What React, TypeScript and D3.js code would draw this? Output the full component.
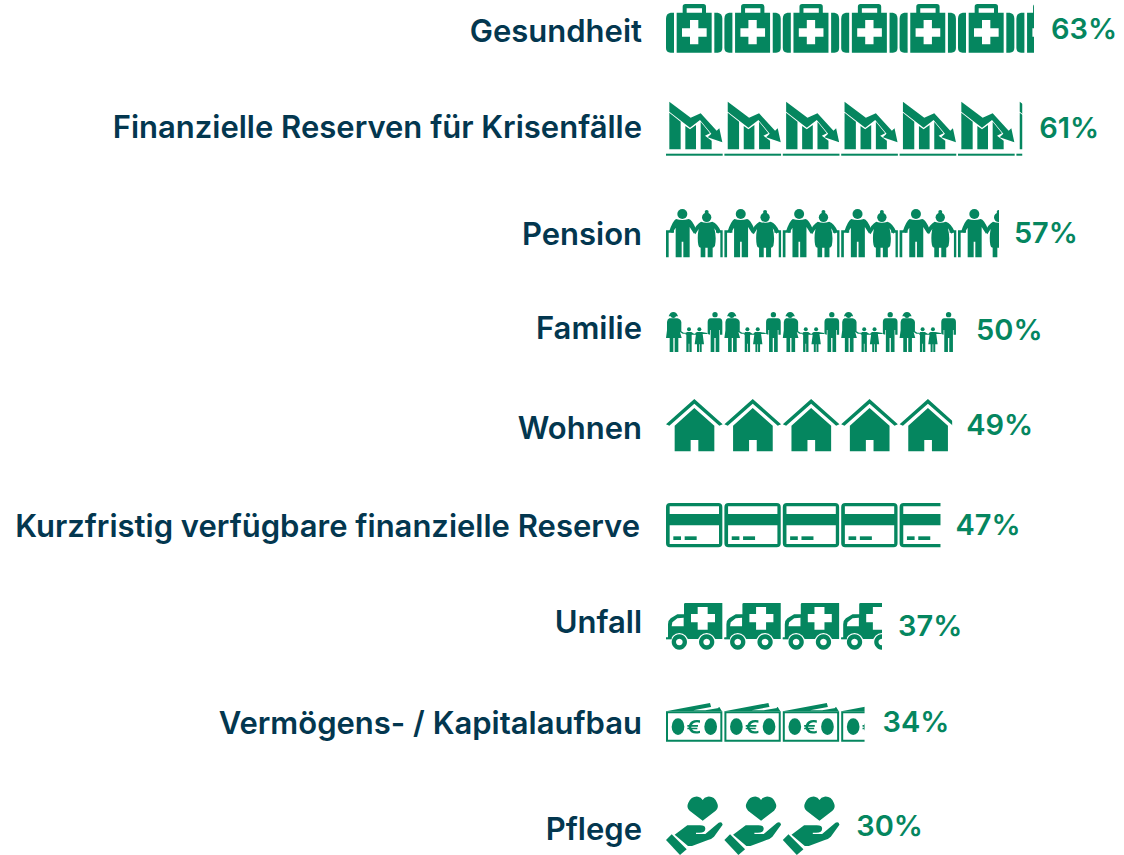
import React from "react";
import * as d3 from "d3";

const categories = ["Gesundheit","Finanzielle Reserven für Krisenfälle","Pension","Familie","Wohnen","Kurzfristig verfügbare finanzielle Reserve","Unfall","Vermögens- / Kapitalaufbau","Pflege"];
const values = [63,61,57,50,49,47,37,34,30];
const icons = ["kit","chart","pension","family","house","card","ambulance","money","hand"];

const GREEN = "#05865f";
const NAVY = "#03374f";
const FONT = "Inter, sans-serif";

// layout per row (page px)
const iconTops = [4,101.7,209,312,399,503,603,703,796];
const labelY = [31,127,234,328,428,526,622,723,829];
const pctY = [29,128,233,330,425,525,626,722,826];
const labelRight = [642,642,642,642,642,640,642,642,642];
const pctGap = [17,17,15,18,14,15,16,18,15];

const X0 = 666;
const x = d3.scaleLinear().domain([0,100]).range([X0, X0+584]);
const UNIT = 10; // one icon = 10 %

const Kit = () => (
  <g fill={GREEN}>
    <path d="M24 26H14Q0 28 0 44V132Q0 146 14 146H24Z"/>
    <path d="M145 26H155Q169 28 169 44V132Q169 146 155 146H145Z"/>
    <path fillRule="evenodd" d="M32 26H50V8Q50 0 58 0H112Q120 0 120 8V26H137V146H32ZM62 26H108V13H62ZM72 48V73H48V98H72V121H97V98H122V73H97V48Z"/>
  </g>
);
const ChartIcon = () => (
  <g fill={GREEN}>
    <path d="M10 0L74 48L104 35L152 87L160 80L169 122L125 107L136 96L102 55L72 78L10 30Z"/>
    <path d="M10 33L44 60V143H10Z"/>
    <path d="M58 73L72 83L90 70V143H58Z"/>
    <path d="M104 60L132 95L117 102L137 117V143H104Z"/>
    <rect x="0" y="156" width="170" height="6"/>
  </g>
);
const Pension = () => (
  <g fill={GREEN}>
    <circle cx="49" cy="15" r="15"/>
    <path d="M30 30Q49 36 68 30Q78 32 90 60L84 74L71 54V145H52V98H47V145H29V56L19 72L10 66Q20 36 30 30Z"/>
    <path d="M0 64H24V71H8V145H0Z"/>
    <circle cx="122" cy="9" r="6"/>
    <circle cx="122" cy="25" r="14"/>
    <path d="M105 38Q122 44 139 38Q155 44 164 66L156 74L145 58Q152 85 147 110Q144 116 140 116V145H125V116H118V145H104V116Q98 116 97 108Q93 85 98 60L88 76L82 68Q90 46 105 38Z"/>
    <path d="M150 64H170V145H163V71H150Z"/>
  </g>
);
const Family = () => (
  <g fill={GREEN}>
    <circle cx="22" cy="10" r="8"/><path d="M8 13Q12 0 22 0Q32 0 36 13Z"/>
    <path d="M10 19H34Q44 21 46 30V58L53 62H60V65H50L42 60L47 78H37V120H26V78H22V120H11V78H0L3 55V30Q4 21 10 19Z"/>
    <circle cx="69" cy="52" r="6"/>
    <path d="M62 60H76L84 65H92V68H80L77 68V120H70V95H68V120H61V68L58 67Z"/>
    <circle cx="100" cy="52" r="6"/>
    <path d="M93 60H107L124 63V66L110 66L114 97H107V120H101V97H99V120H93V97H86L90 66L88 67V63Z"/>
    <circle cx="147" cy="8" r="8"/>
    <path d="M134 19H160Q169 20 169 30V68H162V54H160V120H149V78H145V120H134V54H132V68L125 66V30Q125 20 134 19Z"/>
  </g>
);
const House = () => (
  <g fill={GREEN}>
    <path d="M85 0L170 76L160 80L85 14L10 80L0 76Z"/>
    <path fillRule="evenodd" d="M85 27L145 80V157H97V123H74V157H26V80Z"/>
  </g>
);
const Card = () => (
  <g fill={GREEN}>
    <path fillRule="evenodd" d="M12 0H157Q169 0 169 12V121Q169 133 157 133H12Q0 133 0 121V12Q0 0 12 0ZM11 10V33H159V10ZM11 67V123H159V67Z"/>
    <rect x="22" y="100" width="23" height="11"/>
    <rect x="56" y="100" width="36" height="11"/>
  </g>
);
const Ambulance = () => (
  <g>
    <path fill={GREEN} fillRule="evenodd" d="M58 0H169V108H0V104H6V64Q6 52 14 46L34 34H54V4Q54 0 58 0ZM95 12V33H75V58H95V80H125V58H147V33H125V12ZM17 70H53V44L34 46L19 58Z"/>
    <circle cx="40" cy="117" r="27" fill="#fff"/>
    <circle cx="122" cy="117" r="27" fill="#fff"/>
    <path fill={GREEN} fillRule="evenodd" d="M40 94a23 23 0 1 0 .01 0ZM40 107a10 10 0 1 1 -.01 0Z"/>
    <path fill={GREEN} fillRule="evenodd" d="M122 94a23 23 0 1 0 .01 0ZM122 107a10 10 0 1 1 -.01 0Z"/>
    <rect x="0" y="103" width="17" height="6" fill={GREEN}/>
  </g>
);
const Money = () => (
  <g fill={GREEN}>
    <path fillRule="evenodd" d="M0 25H169V116H0ZM6 31V110H163V31Z"/>
    <path d="M0 25L132 0L138 22H110L160 12L168 25H0Z"/>
    <path fill="#fff" d="M82 22L155 8L158 15L118 22Z"/>
    <ellipse cx="36" cy="71" rx="19" ry="25"/>
    <ellipse cx="134" cy="71" rx="19" ry="25"/>
    <path d="M102 52Q75 48 69 66H64V71H68V74H64V79H69Q76 96 102 90V83Q84 88 78 79H94V74H76V71H96V66H78Q84 55 102 59Z"/>
  </g>
);
const Hand = () => (
  <g fill={GREEN}>
    <path d="M110 74L71 44Q60 34 67 20Q76 0 96 2Q105 3 110 12Q115 3 125 2Q145 0 153 20Q160 34 149 44Z"/>
    <path d="M0 132L17 115L62 160L42 177Z"/>
    <path d="M26 116L64 88H102Q118 88 118 98Q118 110 100 110H90V114H118L158 80Q168 76 170 86L144 122Q136 130 126 132L78 150L66 150Z"/>
  </g>
);
const glyphs: Record<string, () => React.ReactElement> = {kit:Kit,chart:ChartIcon,pension:Pension,family:Family,house:House,card:Card,ambulance:Ambulance,money:Money,hand:Hand};

export default function App() {
  const pitch = x(UNIT) - x(0);
  return (
    <svg width={1124} height={855} style={{position:"absolute",left:0,top:0,background:"#fff"}} fontFamily={FONT}>
      <defs>
        {values.map((v,i)=>(
          <clipPath id={`clip${i}`} key={i}>
            <rect x={x(0)} y={iconTops[i]-5} width={x(v)-x(0)} height={70}/>
          </clipPath>
        ))}
      </defs>
      {categories.map((c,i)=>{
        const G = glyphs[icons[i]];
        const n = Math.ceil(values[i]/UNIT);
        return (
          <g key={c}>
            <text x={labelRight[i]} y={labelY[i]} dy="0.36em" textAnchor="end" fontSize={31} fontWeight={600} fill={NAVY}>{c}</text>
            <g clipPath={`url(#clip${i})`}>
              {d3.range(n).map(k=>(
                <g key={k} transform={`translate(${x(0)+k*pitch},${iconTops[i]}) scale(${1/3})`}><G/></g>
              ))}
            </g>
            <text x={x(values[i])+pctGap[i]} y={pctY[i]} dy="0.36em" fontSize={29} fontWeight={600} fill={GREEN}>{values[i]}%</text>
          </g>
        );
      })}
    </svg>
  );
}
